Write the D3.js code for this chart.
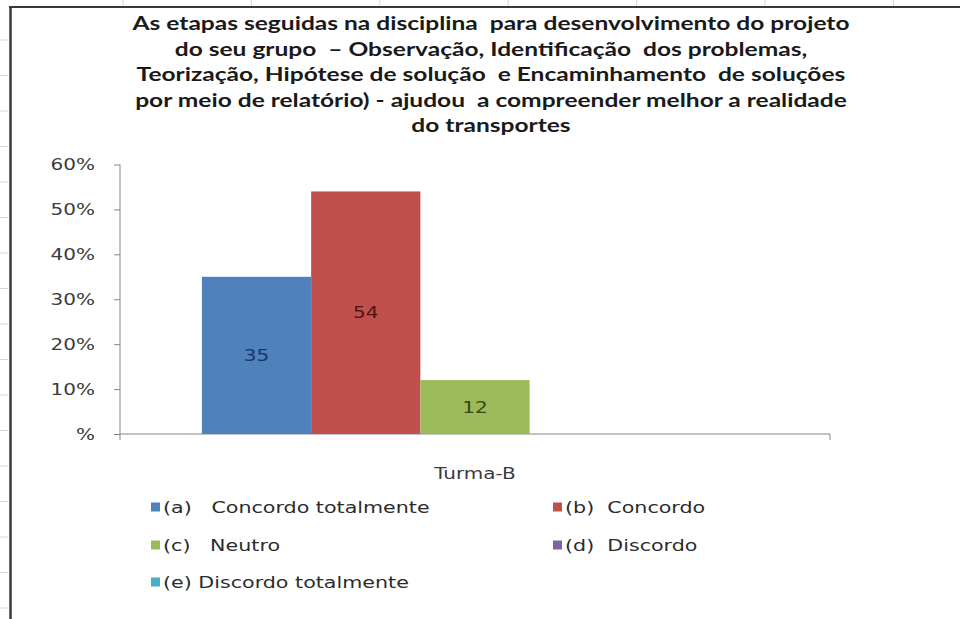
<!DOCTYPE html>
<html>
<head>
<meta charset="utf-8">
<script src="https://cdn.jsdelivr.net/npm/d3@7"></script>
<style>
  body { margin: 0; background: #ffffff; }
  svg { display: block; }
  text { white-space: pre; }
</style>
</head>
<body>
<svg id="chart"></svg>
<script>
const width = 960
const height = 619

// chart data
const titleLines = [
    "As etapas seguidas na disciplina  para desenvolvimento do projeto",
    "do seu grupo  \u2013 Observação, Identificação  dos problemas,",
    "Teorização, Hipótese de solução  e Encaminhamento  de soluções",
    "por meio de relatório) - ajudou  a compreender melhor a realidade",
    "do transportes"
]
const categories = ["Turma-B"]
const seriesKeys = ["a", "b", "c", "d", "e"]
const seriesNames = [
    "(a)   Concordo totalmente",
    "(b)  Concordo",
    "(c)   Neutro",
    "(d)  Discordo",
    "(e) Discordo totalmente"
]
const seriesValues = [35, 54, 12, 0, 0]
const dataLabels = ["35", "54", "12", "", ""]
const yTicks = [0, 10, 20, 30, 40, 50, 60]
const yTickLabels = ["%", "10%", "20%", "30%", "40%", "50%", "60%"]

const colors = d3.scaleOrdinal()
    .domain(seriesKeys)
    .range(["#4f81bd", "#c0504d", "#9bbb59", "#8064a2", "#4bacc6"])
const labelColors = d3.scaleOrdinal()
    .domain(seriesKeys)
    .range(["#1c3560", "#4e1514", "#34461a", "#3a2c4c", "#1f4c58"])

const plot = { left: 120, right: 830, top: 164.5, bottom: 434 }
const stretch = 1.25        // the picture is a bit wider than the font
const titleWidth = 717      // width of the longest title line in the picture
const sans = "'DejaVu Sans', Verdana, sans-serif"

const svg = d3.select("#chart")
    .attr("width", width)
    .attr("height", height)

svg.append("rect")
    .attr("width", width)
    .attr("height", height)
    .attr("fill", "#ffffff")

// widen text horizontally without touching its height
function widen(sel, k) {
    sel.each(function () {
        const len = this.getComputedTextLength()
        if (len > 0) {
            d3.select(this)
                .attr("textLength", len * k)
                .attr("lengthAdjust", "spacingAndGlyphs")
        }
    })
}

// faint spreadsheet grid peeking out round the frame
const grid = svg.append("g").attr("stroke", "#d6d6d6").attr("stroke-width", 1)
grid.selectAll("line.col")
    .data(d3.range(123, width, 128.4))
    .join("line")
    .attr("class", "col")
    .attr("x1", d => d).attr("x2", d => d)
    .attr("y1", 0).attr("y2", 6)
grid.selectAll("line.row")
    .data(d3.range(40, height, 35.5))
    .join("line")
    .attr("class", "row")
    .attr("x1", 0).attr("x2", 8)
    .attr("y1", d => d).attr("y2", d => d)

// frame
svg.append("line")
    .attr("x1", 10.5).attr("x2", 10.5)
    .attr("y1", 6).attr("y2", height)
    .attr("stroke", "#3a3a3a").attr("stroke-width", 2.5)
svg.append("line")
    .attr("x1", 9).attr("x2", width)
    .attr("y1", 7).attr("y2", 7)
    .attr("stroke", "#3a3a3a").attr("stroke-width", 2)

// title
const title = svg.append("g")
    .attr("font-family", "Lato, 'Open Sans', sans-serif")
    .attr("font-weight", 700)
    .attr("font-size", 19.5)
    .attr("fill", "#1a1a1a")
    .attr("text-anchor", "middle")
title.selectAll("text")
    .data(titleLines)
    .join("text")
    .attr("x", 491)
    .attr("y", (d, i) => 30 + i * 25.5)
    .text(d => d)
const longest = d3.max(title.selectAll("text").nodes(), n => n.getComputedTextLength())
widen(title.selectAll("text"), titleWidth / longest)

// scales
const yScale = d3.scaleLinear()
    .domain([0, 60])
    .range([plot.bottom, plot.top])
const xScale = d3.scaleBand()
    .domain(categories)
    .range([plot.left, plot.right])
    .paddingOuter(0.15)
const xInner = d3.scaleBand()
    .domain(seriesKeys)
    .range([0, xScale.bandwidth()])

// y axis
const yAxis = svg.append("g")
    .attr("transform", "translate(" + plot.left + ",0)")
    .call(d3.axisLeft(yScale)
        .tickValues(yTicks)
        .tickSize(6)
        .tickPadding(19)
        .tickFormat((d, i) => yTickLabels[i]))
yAxis.select(".domain").attr("stroke", "#868686").attr("d", "M0," + plot.top + "V" + plot.bottom)
yAxis.selectAll(".tick line").attr("stroke", "#868686")
yAxis.selectAll(".tick text")
    .attr("font-family", sans)
    .attr("font-size", 16)
    .attr("fill", "#3c3c3c")
widen(yAxis.selectAll(".tick text"), stretch)

// x axis line and the category edge ticks
const xAxis = svg.append("g")
    .attr("transform", "translate(0," + plot.bottom + ")")
xAxis.append("line")
    .attr("x1", plot.left).attr("x2", plot.right)
    .attr("stroke", "#868686")
xAxis.selectAll("line.edge")
    .data([plot.left, plot.right])
    .join("line")
    .attr("class", "edge")
    .attr("x1", d => d).attr("x2", d => d)
    .attr("y1", 0).attr("y2", 6)
    .attr("stroke", "#868686")
const catLabels = xAxis.selectAll("text")
    .data(categories)
    .join("text")
    .attr("x", d => xScale(d) + xScale.bandwidth() / 2)
    .attr("y", 45)
    .attr("text-anchor", "middle")
    .attr("font-family", sans)
    .attr("font-size", 16)
    .attr("fill", "#3c3c3c")
    .text(d => d)
widen(catLabels, stretch)

// bars
const barData = seriesKeys.map((k, i) => ({
    category: categories[0], key: k, value: seriesValues[i], label: dataLabels[i]
}))
const bars = svg.append("g")
bars.selectAll("rect")
    .data(barData)
    .join("rect")
    .attr("x", d => xScale(d.category) + xInner(d.key))
    .attr("y", d => yScale(d.value))
    .attr("width", xInner.bandwidth())
    .attr("height", d => yScale(0) - yScale(d.value))
    .attr("fill", d => colors(d.key))
const valueLabels = bars.selectAll("text")
    .data(barData.filter(d => d.label !== ""))
    .join("text")
    .attr("x", d => xScale(d.category) + xInner(d.key) + xInner.bandwidth() / 2)
    .attr("y", d => (yScale(d.value) + yScale(0)) / 2)
    .attr("dy", "0.36em")
    .attr("text-anchor", "middle")
    .attr("font-family", sans)
    .attr("font-size", 16)
    .attr("fill", d => labelColors(d.key))
    .text(d => d.label)
widen(valueLabels, stretch)

// legend, two columns
const legendCols = [151, 553]
const legendRows = [507, 545, 582]
const legend = svg.append("g")
    .selectAll("g")
    .data(seriesKeys)
    .join("g")
    .attr("transform", (d, i) => "translate(" + legendCols[i % 2] + "," + legendRows[Math.floor(i / 2)] + ")")
legend.append("rect")
    .attr("x", 0).attr("y", -4.5)
    .attr("width", 9).attr("height", 9)
    .attr("fill", d => colors(d))
const legendText = legend.append("text")
    .attr("x", 12)
    .attr("dy", "0.36em")
    .attr("font-family", sans)
    .attr("font-size", 16.5)
    .attr("fill", "#2b2b2b")
    .text((d, i) => seriesNames[i])
widen(legendText, stretch)
</script>
</body>
</html>
